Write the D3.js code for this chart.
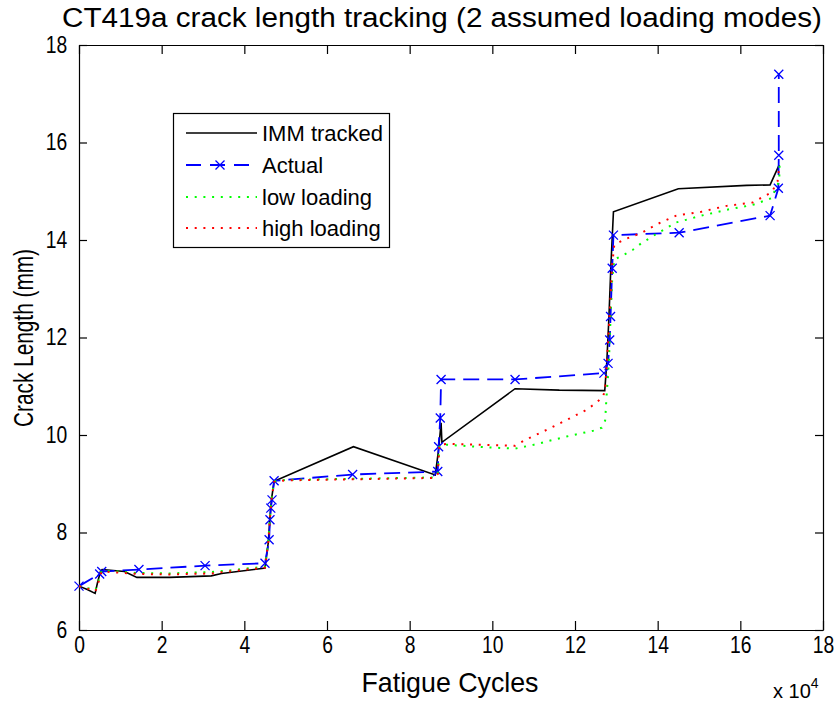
<!DOCTYPE html>
<html>
<head>
<meta charset="utf-8">
<script src="https://cdn.jsdelivr.net/npm/d3@7"></script>
<style>
  body { margin: 0; background: #fff; }
  svg { display: block; font-family: "Liberation Sans", Arial, Helvetica, sans-serif; }
</style>
</head>
<body>
<svg id="chart" width="837" height="704"></svg>
<script>
// Fatigue cycles in units of 10^4, crack length in mm
const xTicks = [0, 2, 4, 6, 8, 10, 12, 14, 16, 18];
const yTicks = [6, 8, 10, 12, 14, 16, 18];

const immCycles = [0, 0.2, 0.39, 0.45, 0.52, 0.56, 1.1, 1.4, 2.2, 3.2, 3.45, 4.5, 4.58, 4.62, 4.66, 4.72, 6.64, 8.62, 8.7, 8.76, 8.78, 10.55, 11.62, 12.72, 12.77, 12.82, 12.87, 12.93, 14.5, 16.15, 16.72, 16.94];
const immLength = [6.9, 6.83, 6.75, 6.98, 7.2, 7.24, 7.2, 7.08, 7.08, 7.11, 7.16, 7.27, 7.8, 8.3, 8.7, 9.05, 9.76, 9.18, 9.7, 10.25, 9.85, 10.95, 10.92, 10.91, 11.5, 12.4, 13.5, 14.58, 15.05, 15.12, 15.13, 15.54];

const actualCycles = [0, 0.5, 0.55, 1.45, 3.05, 4.5, 4.6, 4.62, 4.64, 4.67, 4.72, 6.62, 8.68, 8.7, 8.74, 8.76, 10.55, 12.7, 12.8, 12.84, 12.86, 12.9, 12.93, 14.52, 16.72, 16.92, 16.93, 16.93];
const actualLength = [6.9, 7.15, 7.2, 7.24, 7.32, 7.37, 7.85, 8.26, 8.5, 8.67, 9.06, 9.19, 9.25, 9.76, 10.35, 11.14, 11.14, 11.27, 11.47, 11.95, 12.43, 13.42, 14.1, 14.15, 14.5, 15.06, 15.74, 17.4];

const lowCycles = [0, 0.2, 0.4, 0.47, 0.55, 1.1, 1.4, 2.2, 3.2, 3.5, 4.5, 4.58, 4.62, 4.66, 4.72, 5.0, 6.6, 8.6, 8.68, 8.72, 8.9, 9.8, 10.55, 11.0, 11.8, 12.45, 12.65, 12.73, 12.76, 12.82, 12.86, 12.9, 12.95, 13.17, 13.4, 13.6, 14.0, 14.45, 15.06, 15.67, 16.3, 16.76, 16.85, 16.94, 16.95];
const lowLength = [6.9, 6.86, 6.82, 7.0, 7.22, 7.19, 7.17, 7.16, 7.19, 7.21, 7.3, 7.8, 8.3, 8.7, 9.05, 9.08, 9.1, 9.13, 9.2, 9.78, 9.8, 9.75, 9.72, 9.8, 9.97, 10.09, 10.15, 10.3, 10.75, 11.5, 12.4, 13.2, 13.6, 13.69, 13.8, 13.93, 14.14, 14.36, 14.5, 14.62, 14.72, 14.86, 15.05, 15.2, 15.55];

const highCycles = [0, 0.2, 0.4, 0.47, 0.55, 1.1, 1.4, 2.2, 3.2, 3.5, 4.5, 4.58, 4.62, 4.66, 4.72, 5.0, 6.6, 8.6, 8.68, 8.72, 8.9, 10.55, 10.8, 11.4, 11.8, 12.24, 12.45, 12.68, 12.73, 12.78, 12.84, 12.9, 12.95, 13.17, 13.4, 13.6, 14.0, 14.45, 15.06, 15.67, 16.3, 16.76, 16.9, 16.95];
const highLength = [6.9, 6.85, 6.8, 6.98, 7.2, 7.17, 7.15, 7.14, 7.16, 7.19, 7.28, 7.8, 8.3, 8.7, 9.04, 9.07, 9.09, 9.12, 9.2, 9.8, 9.82, 9.78, 9.9, 10.14, 10.31, 10.5, 10.62, 10.78, 10.96, 11.6, 12.5, 13.5, 13.9, 14.0, 14.08, 14.14, 14.33, 14.5, 14.58, 14.7, 14.77, 14.98, 15.2, 15.55];

const seriesNames = ["IMM tracked", "Actual", "low loading", "high loading"];

const svg = d3.select("#chart");
const plot = { left: 79, right: 823, top: 45, bottom: 630 };

const x = d3.scaleLinear().domain([0, 18]).range([plot.left, plot.right]);
const y = d3.scaleLinear().domain([6, 18]).range([plot.bottom, plot.top]);

const zip = (xs, ys) => xs.map((v, i) => [v, ys[i]]);
const line = d3.line().x(d => x(d[0])).y(d => y(d[1]));

// Axes: box with inward ticks on all four sides, narrow tick numerals
const fontTick = 23;
const narrow = 0.84;
const gBottom = svg.append("g").attr("transform", `translate(0,${plot.bottom})`)
  .call(d3.axisBottom(x).tickValues(xTicks).tickSizeInner(-9).tickSizeOuter(0).tickPadding(7));
const gTop = svg.append("g").attr("transform", `translate(0,${plot.top})`)
  .call(d3.axisTop(x).tickValues(xTicks).tickSizeInner(-9).tickSizeOuter(0).tickFormat(""));
const gLeft = svg.append("g").attr("transform", `translate(${plot.left},0)`)
  .call(d3.axisLeft(y).tickValues(yTicks).tickSizeInner(-8).tickSizeOuter(0).tickPadding(14));
const gRight = svg.append("g").attr("transform", `translate(${plot.right},0)`)
  .call(d3.axisRight(y).tickValues(yTicks).tickSizeInner(-8).tickSizeOuter(0).tickFormat(""));

[gBottom, gTop, gLeft, gRight].forEach(g => {
  g.select(".domain").attr("stroke", "#000").attr("stroke-width", 1.2);
  g.selectAll(".tick line").attr("stroke", "#000").attr("stroke-width", 1.2);
  g.selectAll(".tick text").attr("fill", "#000").attr("font-size", fontTick)
    .attr("font-family", "'Liberation Sans', Arial, sans-serif")
    .attr("transform", `scale(${narrow},1)`);
});

// Series lines
const data = {
  imm: zip(immCycles, immLength),
  actual: zip(actualCycles, actualLength),
  low: zip(lowCycles, lowLength),
  high: zip(highCycles, highLength)
};

const gLines = svg.append("g");
gLines.append("path").datum(data.imm).attr("d", line)
  .attr("fill", "none").attr("stroke", "#000").attr("stroke-width", 1.6);
gLines.append("path").datum(data.actual).attr("d", line)
  .attr("fill", "none").attr("stroke", "#0000ff").attr("stroke-width", 1.8)
  .attr("stroke-dasharray", "16,8");
const xMark = (cx, cy, r) => `M${cx - r},${cy - r}L${cx + r},${cy + r}M${cx - r},${cy + r}L${cx + r},${cy - r}`;
gLines.append("g").selectAll("path").data(data.actual).join("path")
  .attr("d", d => xMark(x(d[0]), y(d[1]), 4.5))
  .attr("stroke", "#0000ff").attr("stroke-width", 1.3).attr("fill", "none");
gLines.append("path").datum(data.low).attr("d", line)
  .attr("fill", "none").attr("stroke", "#00ff00").attr("stroke-width", 2)
  .attr("stroke-dasharray", "2,6.7");
gLines.append("path").datum(data.high).attr("d", line)
  .attr("fill", "none").attr("stroke", "#ff0000").attr("stroke-width", 2)
  .attr("stroke-dasharray", "2,6.7");

// Legend
const lg = svg.append("g");
lg.append("rect").attr("x", 173.5).attr("y", 113.5).attr("width", 216).attr("height", 134)
  .attr("fill", "#fff").attr("stroke", "#000").attr("stroke-width", 1.2);
const rowY = [133, 165, 197, 228];
const styles = [
  { stroke: "#000", width: 1.6, dash: null },
  { stroke: "#0000ff", width: 1.8, dash: "15,9" },
  { stroke: "#00ff00", width: 2, dash: "2,6.7" },
  { stroke: "#ff0000", width: 2, dash: "2,6.7" }
];
seriesNames.forEach((name, i) => {
  const s = styles[i];
  const ln = lg.append("line").attr("x1", 186).attr("x2", 257).attr("y1", rowY[i]).attr("y2", rowY[i])
    .attr("stroke", s.stroke).attr("stroke-width", s.width);
  if (s.dash) ln.attr("stroke-dasharray", s.dash);
  if (i === 1) {
    lg.append("path").attr("d", xMark(220, rowY[i], 4.5))
      .attr("stroke", "#0000ff").attr("stroke-width", 1.3).attr("fill", "none");
  }
  lg.append("text").attr("x", 262).attr("y", rowY[i] + 8).attr("font-size", 22)
    .attr("fill", "#000").text(name);
});

// Title and axis labels
svg.append("text").attr("x", 442).attr("y", 27).attr("text-anchor", "middle")
  .attr("font-size", 27).attr("textLength", 760).attr("lengthAdjust", "spacingAndGlyphs")
  .text("CT419a crack length tracking (2 assumed loading modes)");
svg.append("text").attr("x", 450).attr("y", 692).attr("text-anchor", "middle")
  .attr("font-size", 28).attr("textLength", 177).attr("lengthAdjust", "spacingAndGlyphs")
  .text("Fatigue Cycles");
svg.append("text").attr("transform", "translate(33,338) rotate(-90)").attr("text-anchor", "middle")
  .attr("font-size", 28).attr("textLength", 178).attr("lengthAdjust", "spacingAndGlyphs")
  .text("Crack Length (mm)");
const mult = svg.append("text").attr("x", 773).attr("y", 698).attr("font-size", 20);
mult.append("tspan").text("x 10");
mult.append("tspan").attr("font-size", 14).attr("dy", -10).text("4");
</script>
</body>
</html>
